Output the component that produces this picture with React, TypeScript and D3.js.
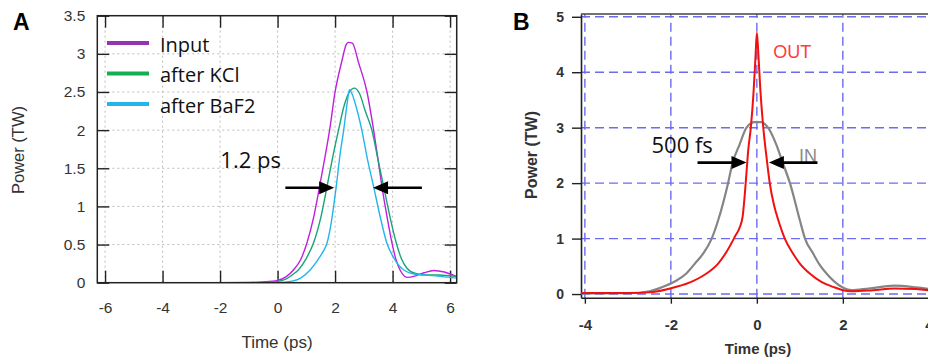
import React, { useEffect, useRef } from 'react';
import * as d3 from 'd3';

type Pt = [number, number];

// ---- panel A data (time ps, power TW) ----
const inputPulse: Pt[] = [
  [-6.27, 0], [-2, 0], [-1, 0.003], [-0.5, 0.01], [0, 0.03], [0.3, 0.08], [0.56, 0.17], [0.8, 0.3],
  [1.02, 0.52], [1.25, 0.85], [1.46, 1.26], [1.65, 1.65], [1.81, 2.0], [2.0, 2.5], [2.22, 2.88],
  [2.4, 3.13], [2.47, 3.15], [2.6, 3.14], [2.82, 2.88], [3.11, 2.5], [3.34, 2.0], [3.5, 1.6],
  [3.63, 1.26], [3.8, 0.88], [3.98, 0.52], [4.12, 0.3], [4.27, 0.16], [4.5, 0.07], [4.8, 0.09],
  [5.1, 0.13], [5.43, 0.16], [5.8, 0.14], [6.23, 0.08],
];
const afterKCl: Pt[] = [
  [-6.27, 0], [-1, 0], [-0.3, 0.005], [0, 0.015], [0.3, 0.05], [0.5, 0.1], [0.73, 0.17], [1.0, 0.32],
  [1.25, 0.52], [1.5, 0.85], [1.72, 1.26], [1.92, 1.65], [2.12, 2.0], [2.3, 2.3], [2.5, 2.5],
  [2.67, 2.55], [2.85, 2.48], [3.05, 2.25], [3.28, 2.0], [3.5, 1.6], [3.69, 1.26], [3.9, 0.88],
  [4.13, 0.52], [4.3, 0.32], [4.5, 0.19], [4.8, 0.12], [5.2, 0.1], [5.6, 0.1], [6.23, 0.08],
];
const afterBaF2: Pt[] = [
  [-6.27, 0], [-1, 0], [0, 0.003], [0.5, 0.02], [0.8, 0.06], [1.14, 0.17], [1.4, 0.3], [1.6, 0.42],
  [1.72, 0.52], [1.85, 0.75], [1.95, 1.0], [2.04, 1.26], [2.18, 1.7], [2.3, 2.0], [2.42, 2.35],
  [2.5, 2.53], [2.56, 2.5], [2.7, 2.35], [2.93, 2.0], [3.12, 1.63], [3.34, 1.26], [3.56, 0.88],
  [3.8, 0.52], [4.05, 0.32], [4.38, 0.17], [4.8, 0.11], [5.5, 0.09], [6.23, 0.06],
];
const seriesNamesA = ['Input', 'after KCl', 'after BaF2'];
const seriesColorsA = ['#c01fe0', '#16a57a', '#22b6ea'];
const legendColorsA = ['#9433b3', '#12b050', '#22b6ea'];
const timeTicksA = [-6, -4, -2, 0, 2, 4, 6];
const powerTicksA = [0, 0.5, 1, 1.5, 2, 2.5, 3, 3.5];

// ---- panel B data ----
const inPulse: Pt[] = [
  [-4.09, 0.01], [-3, 0.015], [-2.5, 0.05], [-2.18, 0.13], [-1.9, 0.23], [-1.64, 0.37], [-1.45, 0.54],
  [-1.25, 0.73], [-1.05, 1.0], [-0.9, 1.33], [-0.67, 2.0], [-0.57, 2.35], [-0.4, 2.7], [-0.24, 3.0],
  [-0.05, 3.1], [0.1, 3.1], [0.26, 3.0], [0.45, 2.7], [0.61, 2.35], [0.77, 2.0], [1.0, 1.33],
  [1.12, 1.0], [1.31, 0.73], [1.45, 0.54], [1.62, 0.37], [1.97, 0.13], [2.2, 0.07], [2.6, 0.1],
  [3.2, 0.15], [3.7, 0.12], [4.1, 0.08],
];
const outPulse: Pt[] = [
  [-4.09, 0.02], [-3, 0.02], [-2.5, 0.03], [-1.87, 0.13], [-1.5, 0.23], [-1.17, 0.37], [-0.9, 0.55],
  [-0.69, 0.78], [-0.5, 1.05], [-0.4, 1.2], [-0.33, 1.4], [-0.28, 1.8], [-0.24, 2.2], [-0.2, 2.6],
  [-0.14, 3.0], [-0.08, 3.6], [-0.03, 4.3], [0, 4.71], [0.03, 4.4], [0.08, 3.7], [0.15, 3.0],
  [0.22, 2.5], [0.3, 2.0], [0.4, 1.6], [0.5, 1.33], [0.65, 1.0], [0.84, 0.73], [1.0, 0.55],
  [1.23, 0.37], [1.5, 0.22], [1.77, 0.13], [2.0, 0.07], [2.2, 0.05], [2.7, 0.07], [3.2, 0.1],
  [3.7, 0.09], [4.1, 0.06],
];
const timeTicksB = [-4, -2, 0, 2, 4];
const powerTicksB = [0, 1, 2, 3, 4, 5];

const App: React.FC = () => {
  const ref = useRef<SVGSVGElement | null>(null);

  useEffect(() => {
    const svg = d3.select(ref.current);
    svg.selectAll('*').remove();

    // plain hyphen-minus like the original plots
    const fmt = (d: any) => String(d);

    const arrow = (g: any, x1: number, x2: number, y: number) => {
      const dir = x2 > x1 ? 1 : -1;
      g.append('line')
        .attr('x1', x1).attr('x2', x2 - dir * 10).attr('y1', y).attr('y2', y)
        .attr('stroke', '#000').attr('stroke-width', 2.6);
      g.append('path')
        .attr('d', `M${x2},${y} L${x2 - dir * 15},${y - 6.5} L${x2 - dir * 15},${y + 6.5} Z`)
        .attr('fill', '#000');
    };

    // ================= Panel A =================
    const xA = d3.scaleLinear().domain([-6.27, 6.23]).range([97.3, 456.7]);
    const yA = d3.scaleLinear().domain([0, 3.5]).range([282.7, 15.7]);
    const gA = svg.append('g');

    // grid
    gA.append('g').selectAll('line').data(timeTicksA).enter().append('line')
      .attr('x1', d => xA(d)).attr('x2', d => xA(d)).attr('y1', yA(0)).attr('y2', yA(3.5))
      .attr('stroke', '#bdbdbd').attr('stroke-width', 1).attr('stroke-dasharray', '2,3');
    gA.append('g').selectAll('line').data(powerTicksA).enter().append('line')
      .attr('x1', xA.range()[0]).attr('x2', xA.range()[1]).attr('y1', d => yA(d)).attr('y2', d => yA(d))
      .attr('stroke', '#bdbdbd').attr('stroke-width', 1).attr('stroke-dasharray', '2,3');

    const styleA = (sel: any) => {
      sel.select('.domain').remove();
      sel.selectAll('line').attr('stroke', '#222').attr('stroke-width', 1.4);
      sel.selectAll('text').attr('fill', '#333').style('font-family', 'Liberation Sans, Arial, sans-serif').style('font-size', '15.5px');
    };
    gA.append('g').attr('transform', `translate(0,${yA(0)})`)
      .call(d3.axisBottom(xA).tickValues(timeTicksA).tickSize(-12).tickPadding(19).tickFormat(fmt))
      .call(styleA);
    gA.append('g').attr('transform', `translate(0,${yA(3.5)})`)
      .call(d3.axisTop(xA).tickValues(timeTicksA).tickSize(-12).tickFormat(() => ''))
      .call(styleA);
    gA.append('g').attr('transform', `translate(${xA.range()[0]},0)`)
      .call(d3.axisLeft(yA).tickValues(powerTicksA).tickSize(-12).tickPadding(12).tickFormat(fmt))
      .call(styleA);
    gA.append('g').attr('transform', `translate(${xA.range()[1]},0)`)
      .call(d3.axisRight(yA).tickValues(powerTicksA).tickSize(-12).tickFormat(() => ''))
      .call(styleA);

    svg.append('defs').append('clipPath').attr('id', 'clipA').append('rect')
      .attr('x', 97.3).attr('y', 15.7).attr('width', 359.4).attr('height', 267);

    const lineA = d3.line<Pt>().x(d => xA(d[0])).y(d => yA(d[1])).curve(d3.curveMonotoneX);
    [inputPulse, afterKCl, afterBaF2].forEach((s, i) => {
      gA.append('path').datum(s).attr('d', lineA).attr('fill', 'none')
        .attr('clip-path', 'url(#clipA)')
        .attr('stroke', seriesColorsA[i]).attr('stroke-width', 1.4);
    });

    gA.append('rect').attr('x', 97.3).attr('y', 15.7).attr('width', 359.4).attr('height', 267)
      .attr('fill', 'none').attr('stroke', '#222').attr('stroke-width', 1.5);

    // legend
    seriesNamesA.forEach((name, i) => {
      const ly = 43 + i * 30.5;
      gA.append('line').attr('x1', 107).attr('x2', 149).attr('y1', ly).attr('y2', ly)
        .attr('stroke', legendColorsA[i]).attr('stroke-width', 4);
      gA.append('text').attr('x', 160).attr('y', ly + 8.5)
        .style('font-family', 'Open Sans, sans-serif').style('font-size', '20px').attr('fill', '#111')
        .text(name);
    });

    gA.append('text').attr('x', xA(-1.99)).attr('y', yA(1.51))
      .style('font-family', 'Open Sans, sans-serif').style('font-size', '22px').attr('fill', '#111')
      .text('1.2 ps');
    arrow(gA, xA(0.27), xA(1.97), yA(1.245));
    arrow(gA, xA(5.02), xA(3.32), yA(1.245));

    gA.append('text').attr('x', 277).attr('y', 348).attr('text-anchor', 'middle')
      .style('font-family', 'Liberation Sans, Arial, sans-serif').style('font-size', '17px').attr('fill', '#333')
      .text('Time (ps)');
    gA.append('text').attr('transform', 'translate(24,150) rotate(-90)').attr('text-anchor', 'middle')
      .style('font-family', 'Liberation Sans, Arial, sans-serif').style('font-size', '16.5px').attr('fill', '#333')
      .text('Power (TW)');
    svg.append('text').attr('x', 13).attr('y', 29.5)
      .style('font-family', 'Liberation Sans, Arial, sans-serif').style('font-size', '23px').style('font-weight', 'bold')
      .text('A');

    // ================= Panel B =================
    const xB = d3.scaleLinear().domain([-4.09, 4.09]).range([581, 932.7]);
    const yB = d3.scaleLinear().domain([-0.066, 5.05]).range([297.7, 14]);
    const gB = svg.append('g');
    const grid = '#6b6bf2';

    gB.append('g').selectAll('line').data(timeTicksB).enter().append('line')
      .attr('x1', d => xB(d)).attr('x2', d => xB(d)).attr('y1', yB(-0.066)).attr('y2', yB(5.05))
      .attr('stroke', grid).attr('stroke-width', 1.4).attr('stroke-dasharray', '9,5');
    gB.append('g').selectAll('line').data(powerTicksB).enter().append('line')
      .attr('x1', 581).attr('x2', 932).attr('y1', d => yB(d)).attr('y2', d => yB(d))
      .attr('stroke', grid).attr('stroke-width', 1.4).attr('stroke-dasharray', '9,5');

    const styleB = (sel: any) => {
      sel.select('.domain').attr('stroke', '#222').attr('stroke-width', 1.6);
      sel.selectAll('.tick line').attr('stroke', '#222').attr('stroke-width', 1.4);
      sel.selectAll('text').attr('fill', '#333').style('font-family', 'Liberation Sans, Arial, sans-serif')
        .style('font-weight', 'bold');
    };
    gB.append('g').attr('transform', 'translate(0,297.7)')
      .call(d3.axisBottom(xB).tickValues(timeTicksB).tickSizeInner(6).tickSizeOuter(0).tickPadding(16).tickFormat(fmt))
      .call(styleB)
      .call((s: any) => s.selectAll('text').style('font-size', '15px'));
    gB.append('g').attr('transform', 'translate(581,0)')
      .call(d3.axisLeft(yB).tickValues(powerTicksB).tickSizeInner(9).tickSizeOuter(0).tickPadding(8).tickFormat(fmt))
      .call(styleB)
      .call((s: any) => s.selectAll('text').style('font-size', '14px'));
    gB.append('line').attr('x1', 581).attr('x2', 932).attr('y1', 14).attr('y2', 14)
      .attr('stroke', '#444').attr('stroke-width', 1.4);

    const lineB = d3.line<Pt>().x(d => xB(d[0])).y(d => yB(d[1])).curve(d3.curveMonotoneX);
    gB.append('path').datum(inPulse).attr('d', lineB).attr('fill', 'none')
      .attr('stroke', '#858585').attr('stroke-width', 2.2);
    gB.append('path').datum(outPulse).attr('d', lineB).attr('fill', 'none')
      .attr('stroke', '#f01010').attr('stroke-width', 2);

    gB.append('text').attr('x', xB(0.38)).attr('y', yB(4.26))
      .style('font-family', 'Liberation Sans, Arial, sans-serif').style('font-size', '18px').attr('fill', '#ff3b3b')
      .text('OUT');
    gB.append('text').attr('x', xB(0.98)).attr('y', yB(2.38))
      .style('font-family', 'Liberation Sans, Arial, sans-serif').style('font-size', '18px').attr('fill', '#8a8a8a')
      .text('IN');
    gB.append('text').attr('x', xB(-2.45)).attr('y', yB(2.55))
      .style('font-family', 'Open Sans, sans-serif').style('font-size', '22px').attr('fill', '#111')
      .text('500 fs');
    arrow(gB, xB(-1.38), xB(-0.24), yB(2.37));
    arrow(gB, xB(1.41), xB(0.28), yB(2.37));

    gB.append('text').attr('x', 758).attr('y', 354).attr('text-anchor', 'middle')
      .style('font-family', 'Liberation Sans, Arial, sans-serif').style('font-size', '15px').style('font-weight', 'bold')
      .attr('fill', '#333').text('Time (ps)');
    gB.append('text').attr('transform', 'translate(537,155) rotate(-90)').attr('text-anchor', 'middle')
      .style('font-family', 'Liberation Sans, Arial, sans-serif').style('font-size', '16px').style('font-weight', 'bold')
      .attr('fill', '#333').text('Power (TW)');
    svg.append('text').attr('x', 513).attr('y', 29.5)
      .style('font-family', 'Liberation Sans, Arial, sans-serif').style('font-size', '23px').style('font-weight', 'bold')
      .text('B');
  }, []);

  return (
    <svg ref={ref} width={928} height={362}
      style={{ position: 'absolute', left: 0, top: 0, background: '#fff' }} />
  );
};

export default App;
